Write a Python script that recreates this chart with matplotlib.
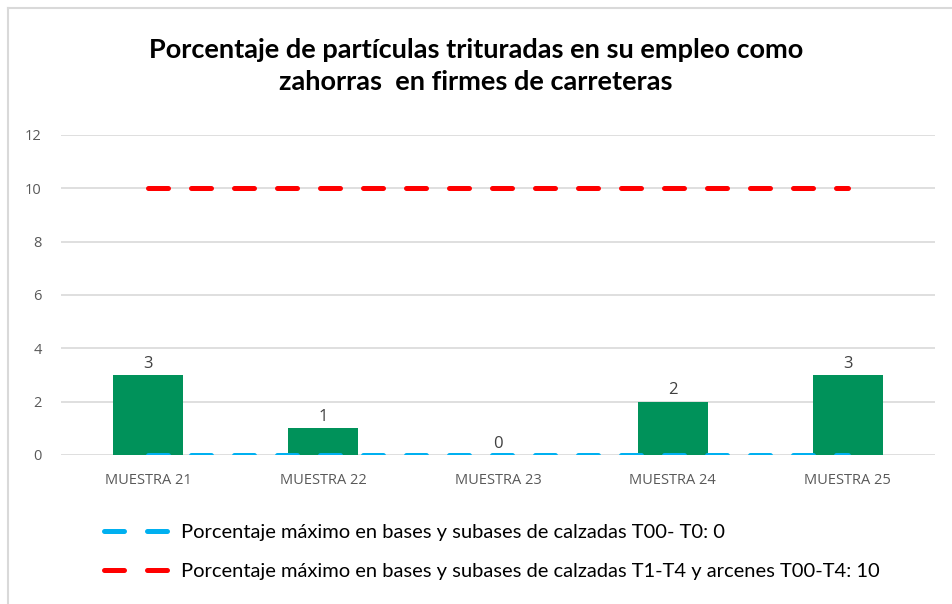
import matplotlib
matplotlib.use("Agg")
import matplotlib.pyplot as plt
from matplotlib.lines import Line2D

categories = ["MUESTRA 21", "MUESTRA 22", "MUESTRA 23", "MUESTRA 24", "MUESTRA 25"]
values = [3, 1, 0, 2, 3]
limit_t00_t0 = [0, 0, 0, 0, 0]
limit_t1_t4 = [10, 10, 10, 10, 10]
yticks = [0, 2, 4, 6, 8, 10, 12]
title = "Porcentaje de partículas trituradas en su empleo como\nzahorras  en firmes de carreteras"
legend_labels = ["Porcentaje máximo en bases y subases de calzadas T00- T0: 0",
                 "Porcentaje máximo en bases y subases de calzadas T1-T4 y arcenes T00-T4: 10"]

W, H = 952, 604
fig = plt.figure(figsize=(W / 100, H / 100), dpi=100)
fig.patch.set_facecolor("white")

# outer border
fig.add_artist(Line2D([8 / W, 8 / W], [0, 1 - 8 / H], transform=fig.transFigure, color="#d9d9d9", lw=1.5))
fig.add_artist(Line2D([8 / W, 1], [1 - 8 / H, 1 - 8 / H], transform=fig.transFigure, color="#d9d9d9", lw=1.5))

ax = fig.add_axes([61 / W, 1 - 455 / H, (935 - 61) / W, (455 - 135) / H])
x = list(range(len(categories)))
green = "#00925A"
bars = ax.bar(x, values, width=0.4, color=green, zorder=2)
for xi, v in zip(x, values):
    ax.text(xi, v + 0.12, str(v), ha="center", va="bottom", fontsize=12, color="#404040", family="Open Sans")

lw = 3.6
dash = (4.0, 4.6)
ax.plot(x, limit_t00_t0, color="#00B0F0", lw=lw, dashes=dash, dash_capstyle="round", zorder=3)
ax.plot(x, limit_t1_t4, color="#FF0000", lw=lw, dashes=dash, dash_capstyle="round", zorder=3)

ax.set_xlim(-0.5, len(categories) - 0.5)
ax.set_ylim(0, 12)
ax.set_yticks(yticks)
ax.set_xticks(x)
ax.set_xticklabels(categories)
ax.grid(axis="y", color="#d9d9d9", lw=1.2, zorder=0)
for s in ax.spines.values():
    s.set_visible(False)
ax.tick_params(length=0, colors="#595959", labelsize=10.5)
ax.tick_params(axis="x", pad=13)
ax.tick_params(axis="y", pad=14)
for lab in ax.get_xticklabels() + ax.get_yticklabels():
    lab.set_family("Open Sans")

fig.text(0.5, 1 - 66 / H, title, ha="center", va="center", fontsize=19.5, fontweight="bold",
         family="Lato", color="#000000", linespacing=1.35)

handles = [Line2D([], [], color="#00B0F0", lw=lw, dashes=dash, dash_capstyle="round"),
           Line2D([], [], color="#FF0000", lw=lw, dashes=dash, dash_capstyle="round")]
leg = fig.legend(handles, legend_labels, loc="upper left", bbox_to_anchor=(86 / W, 1 - 506 / H),
                 frameon=False, handlelength=3.6, handletextpad=0.2, labelspacing=1.1,
                 prop={"family": "Lato", "size": 14.5})
for t in leg.get_texts():
    t.set_color("#000000")

fig.savefig("out.png", dpi=100)
